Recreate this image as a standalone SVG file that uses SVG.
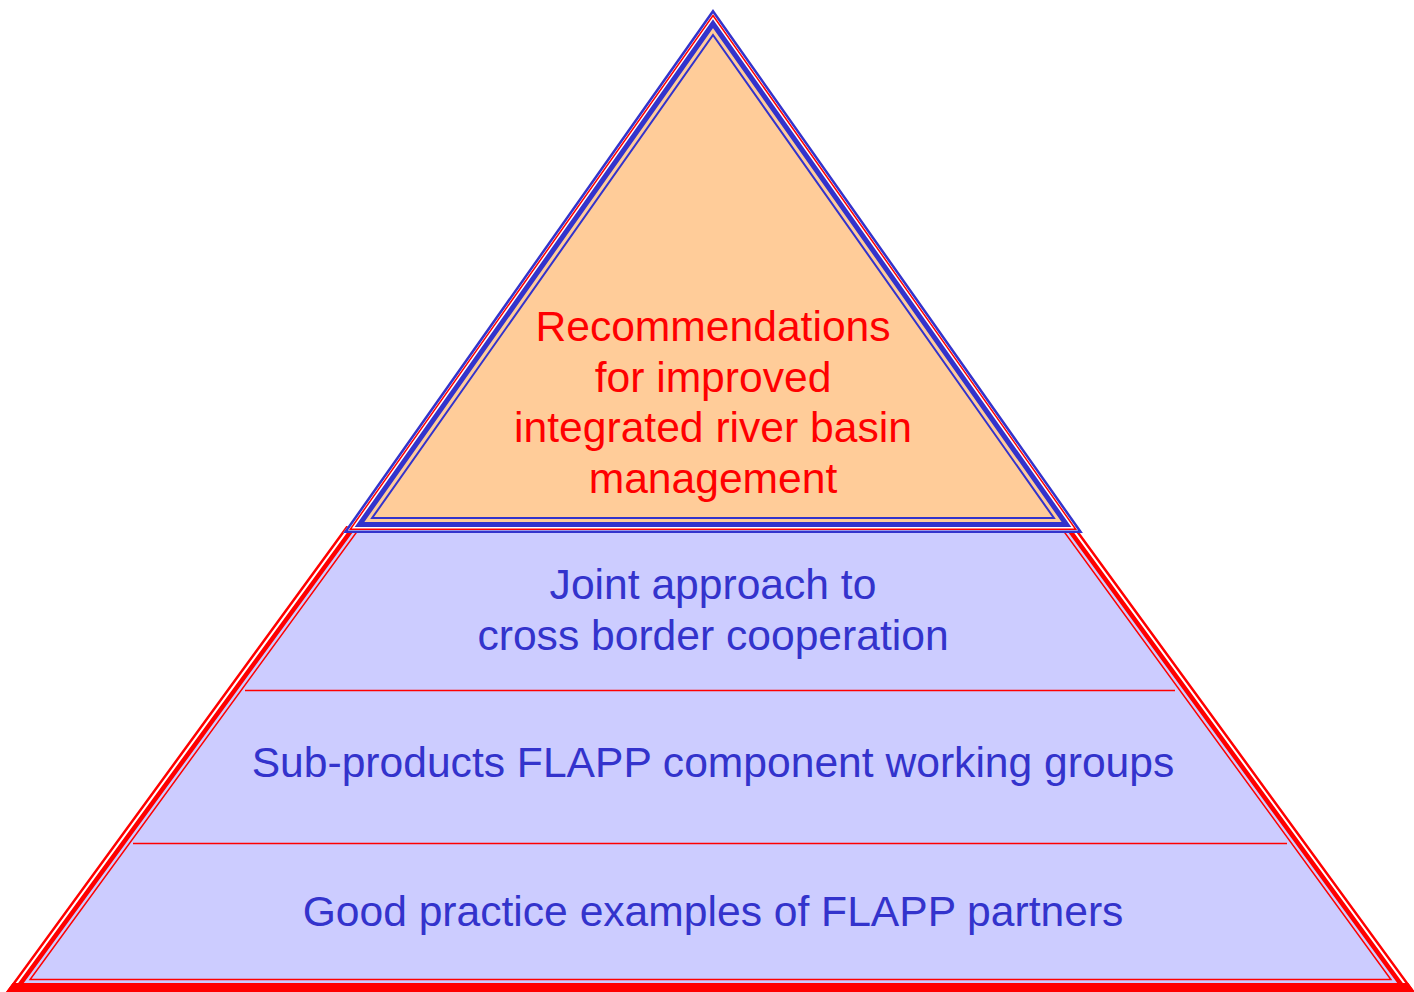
<svg xmlns="http://www.w3.org/2000/svg" width="1414" height="992" viewBox="0 0 1414 992">
<style>
.t{font-family:"Liberation Sans",Arial,sans-serif;font-size:42.6px;text-anchor:middle}
.red{fill:#ff0000}
.blue{fill:#3333cc}
.div{stroke:#ff0000;stroke-width:1.5;fill:none}
</style>
<defs>
<clipPath id="trapClip"><polygon points="354.25,515 1066.75,515 1428.1,1010 -7.1,1010"/></clipPath>
<clipPath id="belowTop"><rect x="-10" y="526" width="1440" height="480"/></clipPath>
</defs>
<rect width="1414" height="992" fill="#ffffff"/>
<g id="base-trapezoid" clip-path="url(#belowTop)">
<polygon points="359.8,515 1061.2,515 1422.5,1010 -1.5,1010" fill="#ccccff" stroke="#ff0000" stroke-width="9" stroke-linejoin="miter"/>
<polygon points="358.6,515 1062.4,515 1423.8,1010 -2.8,1010" fill="none" stroke="#ffffff" stroke-width="2"/>
<polygon points="369.1,515 1051.9,515 1390.9,979.5 30.1,979.5" fill="none" stroke="#ff0000" stroke-width="1.5"/>
<rect x="0" y="983" width="1414" height="10" fill="#ff0000" clip-path="url(#trapClip)"/>
</g>
<g id="connectors">
<line class="div" x1="245" y1="690.5" x2="1175" y2="690.5"/>
<line class="div" x1="133" y1="843.5" x2="1287" y2="843.5"/>
</g>
<g id="top-triangle">
<polygon points="713,9 1082.9,533 343.1,533" fill="#ffffff"/>
<polygon points="713,11.2 1080.5,531.75 345.5,531.75" fill="none" stroke="#3333cc" stroke-width="2.5"/>
<polygon points="713,15.5 1075.7,529.25 350.3,529.25" fill="none" stroke="#ff0000" stroke-width="1.5"/>
<polygon points="713,23.7 1066.5,524.5 359.5,524.5" fill="#ffcc99" stroke="#3333cc" stroke-width="5"/>
<polygon points="713,35 1053.9,518 372.1,518" fill="none" stroke="#3333cc" stroke-width="2"/>
</g>
<g id="node-recommendations">
<text class="t red" x="713" y="341">Recommendations</text>
<text class="t red" x="713" y="392">for improved</text>
<text class="t red" x="713" y="442">integrated river basin</text>
<text class="t red" x="713" y="493">management</text>
</g>
<g id="node-joint">
<text class="t blue" x="713" y="599">Joint approach to</text>
<text class="t blue" x="713" y="650">cross border cooperation</text>
</g>
<g id="node-subproducts">
<text class="t blue" x="713" y="777">Sub-products FLAPP component working groups</text>
</g>
<g id="node-goodpractice">
<text class="t blue" x="713" y="926">Good practice examples of FLAPP partners</text>
</g>
</svg>
